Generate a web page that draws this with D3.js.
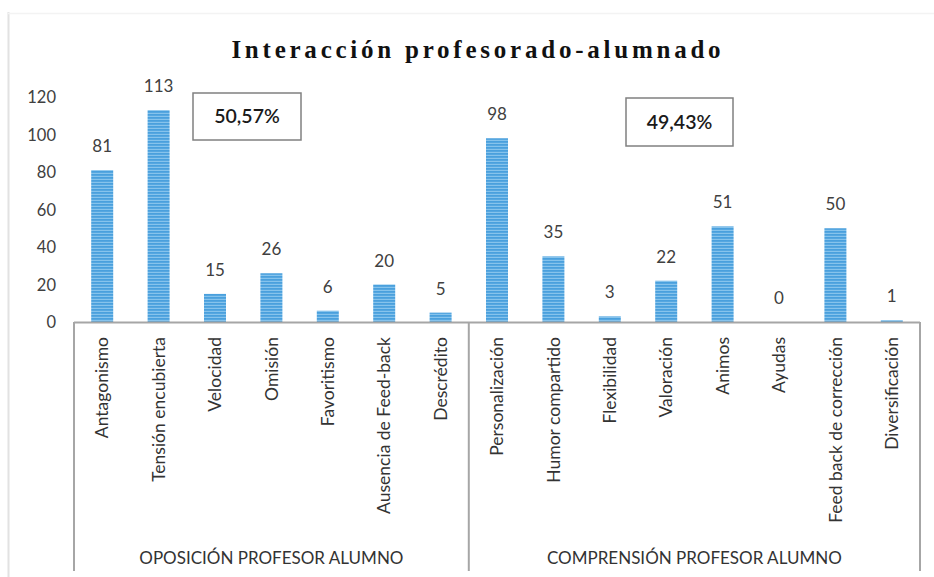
<!DOCTYPE html>
<html>
<head>
<meta charset="utf-8">
<script src="https://cdn.jsdelivr.net/npm/d3@7"></script>
<style>
  html, body { margin: 0; padding: 0; background: #fff; }
  svg { display: block; }
</style>
</head>
<body>
<svg id="chart" width="934" height="577"></svg>
<script>
// ---- data ----
const title = "Interacción profesorado-alumnado";
const categories = [
  "Antagonismo", "Tensión encubierta", "Velocidad", "Omisión", "Favoritismo",
  "Ausencia de Feed-back", "Descrédito",
  "Personalización", "Humor compartido", "Flexibilidad", "Valoración", "Animos",
  "Ayudas", "Feed back de corrección", "Diversificación"
];
const values = [81, 113, 15, 26, 6, 20, 5, 98, 35, 3, 22, 51, 0, 50, 1];
const groups = ["OPOSICIÓN PROFESOR ALUMNO", "COMPRENSIÓN PROFESOR ALUMNO"];
const groupSizes = [7, 8];
const groupPercents = ["50,57%", "49,43%"];
const yTicks = [0, 20, 40, 60, 80, 100, 120];

// ---- layout ----
const svg = d3.select("#chart");
const left = 74, right = 920, baseY = 322, topY = 97, axisBottom = 571;
const font = "Lato, 'Open Sans', sans-serif";

const x = d3.scaleBand().domain(d3.range(categories.length)).range([left, right]).paddingInner(0.61).paddingOuter(0.305);
const y = d3.scaleLinear().domain([0, 120]).range([baseY, topY]);

// outer faint chart frame
svg.append("line").attr("x1", 8.5).attr("x2", 8.5).attr("y1", 12).attr("y2", 577)
  .attr("stroke", "#e2e2e2").attr("stroke-width", 2);
svg.append("line").attr("x1", 8).attr("x2", 934).attr("y1", 13.5).attr("y2", 13.5)
  .attr("stroke", "#f3f3f3").attr("stroke-width", 1.5);

// stripe pattern
const defs = svg.append("defs");
const pat = defs.append("pattern").attr("id", "stripes").attr("patternUnits", "userSpaceOnUse")
  .attr("width", 6).attr("height", 3);
pat.append("rect").attr("width", 6).attr("height", 3).attr("fill", "#4aa0dd");
pat.append("rect").attr("y", 1.8).attr("width", 6).attr("height", 1.2).attr("fill", "#86c3ec");

// title
const t = svg.append("text").attr("x", 476).attr("y", 58).attr("text-anchor", "middle")
  .attr("font-family", "'Liberation Serif', 'Times New Roman', serif")
  .attr("font-weight", "bold").attr("font-size", 25).attr("fill", "#111")
  .text(title);
(function () {
  const target = 493;
  const len0 = t.node().getComputedTextLength();
  const n = title.length;
  const ls = Math.max(0, (target - len0) / n);
  t.style("letter-spacing", ls + "px").attr("x", 476 + ls / 2);
})();

// y axis (labels only)
const yAxis = d3.axisLeft(y).tickValues(yTicks).tickSize(0).tickPadding(0);
const gy = svg.append("g").attr("transform", "translate(56,0)").call(yAxis);
gy.select(".domain").remove();
gy.selectAll("text").attr("font-family", font).attr("font-size", 16.5).attr("fill", "#404040")
  .attr("dy", "0.35em");

// bars
svg.append("g").selectAll("rect").data(values).join("rect")
  .attr("x", (d, i) => x(i))
  .attr("width", x.bandwidth())
  .attr("y", d => y(d))
  .attr("height", d => baseY - y(d))
  .attr("fill", "url(#stripes)");

// value labels
svg.append("g").selectAll("text").data(values).join("text")
  .attr("x", (d, i) => x(i) + x.bandwidth() / 2)
  .attr("y", d => y(d) - 18)
  .attr("text-anchor", "middle")
  .attr("font-family", font).attr("font-size", 17).attr("fill", "#404040")
  .text(d => d);

// category axis box
const step = x.step();
const ax = svg.append("g").attr("stroke", "#a6a6a6").attr("stroke-width", 2).attr("fill", "none");
ax.append("line").attr("x1", left).attr("x2", right).attr("y1", baseY + 0.5).attr("y2", baseY + 0.5);
let cum = 0;
const seps = [0];
groupSizes.forEach(s => { cum += s; seps.push(cum); });
seps.forEach(k => {
  const xx = left + k * step;
  ax.append("line").attr("x1", xx).attr("x2", xx).attr("y1", baseY).attr("y2", axisBottom);
});

// category labels (rotated)
svg.append("g").selectAll("text").data(categories).join("text")
  .attr("transform", (d, i) => `translate(${x(i) + x.bandwidth() / 2},337) rotate(-90)`)
  .attr("text-anchor", "end")
  .attr("dy", "0.35em")
  .attr("font-family", font).attr("font-size", 17.5).attr("fill", "#333")
  .text(d => d);

// group labels
svg.append("g").selectAll("text").data(groups).join("text")
  .attr("x", (d, i) => left + (seps[i] + seps[i + 1]) / 2 * step)
  .attr("y", 558).attr("dy", "0.35em")
  .attr("text-anchor", "middle")
  .attr("font-family", font).attr("font-size", 17).attr("fill", "#333")
  .text(d => d);

// percentage boxes
const boxes = [
  { x: 193, y: 93, w: 108, h: 47 },
  { x: 626, y: 98, w: 107, h: 48 }
];
boxes.forEach((b, i) => {
  svg.append("rect").attr("x", b.x).attr("y", b.y).attr("width", b.w).attr("height", b.h)
    .attr("fill", "#fff").attr("stroke", "#808080").attr("stroke-width", 1.5);
  svg.append("text").attr("x", b.x + b.w / 2).attr("y", b.y + b.h / 2).attr("dy", "0.35em")
    .attr("text-anchor", "middle").attr("font-family", font).attr("font-weight", 600)
    .attr("font-size", 19.5).attr("fill", "#1a1a1a").text(groupPercents[i]);
});
</script>
</body>
</html>
